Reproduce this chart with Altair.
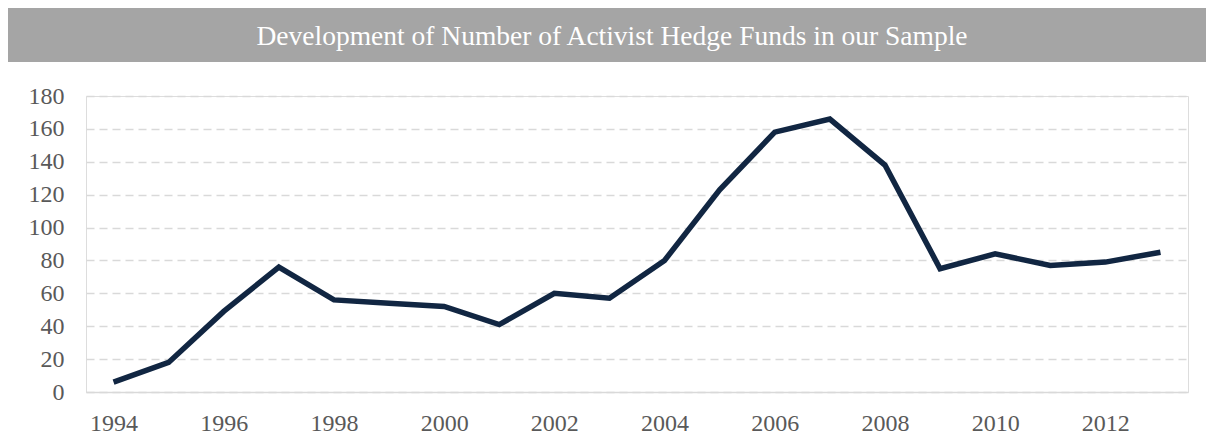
import altair as alt
import pandas as pd

years = list(range(1994, 2014))
funds = [6, 18, 49, 76, 56, 54, 52, 41, 60, 57, 80, 123, 158, 166, 138, 75, 84, 77, 79, 85]
title_text = "Development of Number of Activist Hedge Funds in our Sample"
x_ticks = list(range(1994, 2014, 2))
y_ticks = list(range(0, 181, 20))

df = pd.DataFrame({"year": years, "funds": funds})

W, H = 1102, 296
PAD_L, PAD_T, PAD_R, PAD_B = 78, 88, 18, 43

xs = alt.Scale(domain=[1993.5, 2013.5], nice=False, zero=False)
ys = alt.Scale(domain=[0, 180], nice=False)

font = "Liberation Serif"

line = alt.Chart(df).mark_line(color="#112642", strokeWidth=5.5, strokeJoin="miter").encode(
    x=alt.X("year:Q", scale=xs, axis=alt.Axis(
        values=x_ticks, format="d", title=None, grid=False, ticks=False,
        domain=True, domainColor="#D9D9D9", domainWidth=1.5,
        labelFont=font, labelFontSize=24, labelColor="#595959", labelPadding=19,
        labelFlush=False)),
    y=alt.Y("funds:Q", scale=ys, axis=alt.Axis(
        values=y_ticks, title=None, grid=True, gridDash=[8, 5], gridColor="#D9D9D9",
        gridWidth=1.5, ticks=False, domain=False,
        labelFont=font, labelFontSize=24, labelColor="#595959", labelPadding=22)),
)

banner = alt.Chart(pd.DataFrame({"t": [title_text]})).mark_rect(color="#A5A5A5").encode(
    x=alt.value(8 - 8 - PAD_L), x2=alt.value(W + PAD_R),
    y=alt.value(8 - 8 - PAD_T), y2=alt.value(62 - 8 - PAD_T),
)
title = alt.Chart(pd.DataFrame({"t": [title_text]})).mark_text(
    font=font, fontSize=27.5, color="white", align="center", baseline="alphabetic"
).encode(
    text="t:N",
    x=alt.value(612 - 8 - PAD_L), y=alt.value(45 - 8 - PAD_T),
)

chart = alt.layer(banner, title, line).properties(
    width=W, height=H,
    autosize=alt.AutoSizeParams(type="none"),
    padding={"left": PAD_L, "top": PAD_T, "right": PAD_R, "bottom": PAD_B},
).configure_view(strokeWidth=0, stroke="transparent").configure(background="white")

chart.save("out.html", embed_options={"renderer": "svg", "actions": False})
